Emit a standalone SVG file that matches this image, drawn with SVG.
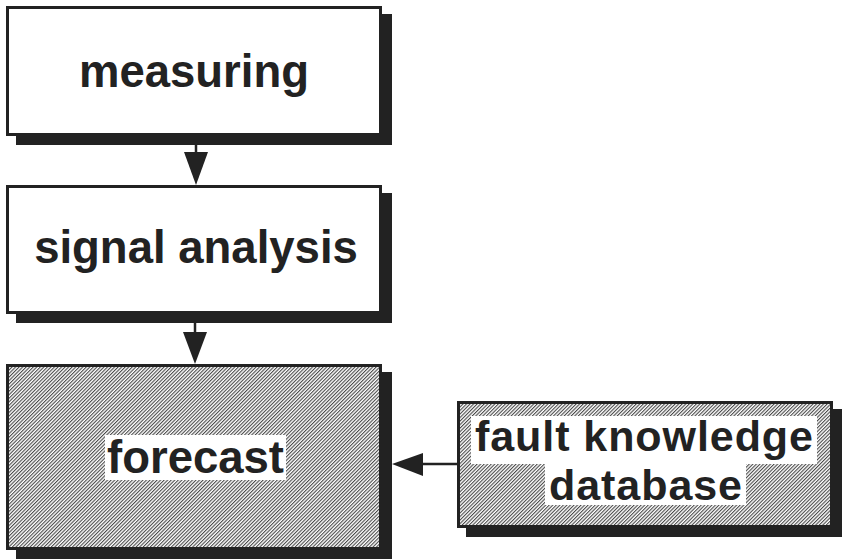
<svg xmlns="http://www.w3.org/2000/svg" width="842" height="559" viewBox="0 0 842 559">
<style>
.box{stroke:#222;stroke-width:3}
.plain{fill:#fff}
.hatched{fill:url(#hatch)}
.shadow{fill:#222}
.label{font-family:"Liberation Sans",Arial,sans-serif;font-weight:bold;font-size:45.5px;fill:#222;text-anchor:middle}
.small{font-size:43px}
.bg{fill:#fff}
.conn{stroke:#222;stroke-width:2.5;fill:none}
.head{fill:#222}
</style>
<defs>
<pattern id="hatch" patternUnits="userSpaceOnUse" width="2.5" height="2.5" patternTransform="rotate(45)">
<rect width="2.5" height="2.5" fill="#fff"/>
<rect width="1.1" height="2.5" fill="#4a4a4a"/>
</pattern>
</defs>
<rect width="842" height="559" fill="#fff"/>
<g id="measuring">
<rect class="shadow" x="16" y="14" width="376" height="131"/>
<rect class="box plain" x="7.5" y="7.5" width="373" height="127"/>
<text class="label" x="194" y="87">measuring</text>
</g>
<g id="signal-analysis">
<rect class="shadow" x="16" y="193" width="376" height="130"/>
<rect class="box plain" x="7.5" y="186.5" width="373" height="126"/>
<text class="label" x="196" y="263">signal analysis</text>
</g>
<g id="forecast">
<rect class="shadow" x="16" y="372" width="376" height="187"/>
<rect class="box hatched" x="7.5" y="365.5" width="373" height="183"/>
<rect class="bg" x="105" y="435" width="181" height="45"/>
<text class="label" x="195.5" y="473">forecast</text>
</g>
<g id="fault-knowledge-database">
<rect class="shadow" x="466" y="409" width="376" height="128"/>
<rect class="box hatched" x="458.5" y="402.5" width="373" height="124"/>
<rect class="bg" x="471" y="416" width="346" height="48"/>
<rect class="bg" x="545" y="463" width="201" height="42"/>
<text class="label small" x="644" y="451" textLength="338" lengthAdjust="spacing">fault knowledge</text>
<text class="label small" x="645.5" y="500" textLength="193" lengthAdjust="spacing">database</text>
</g>
<g id="connectors">
<line class="conn" x1="196" y1="145" x2="196" y2="154"/>
<polygon class="head" points="184,152 208,152 196,185"/>
<line class="conn" x1="195" y1="323" x2="195" y2="334"/>
<polygon class="head" points="183,332 207,332 195,364"/>
<line class="conn" x1="457" y1="464" x2="420" y2="464"/>
<polygon class="head" points="423,453 423,476 392,464"/>
</g>
</svg>
